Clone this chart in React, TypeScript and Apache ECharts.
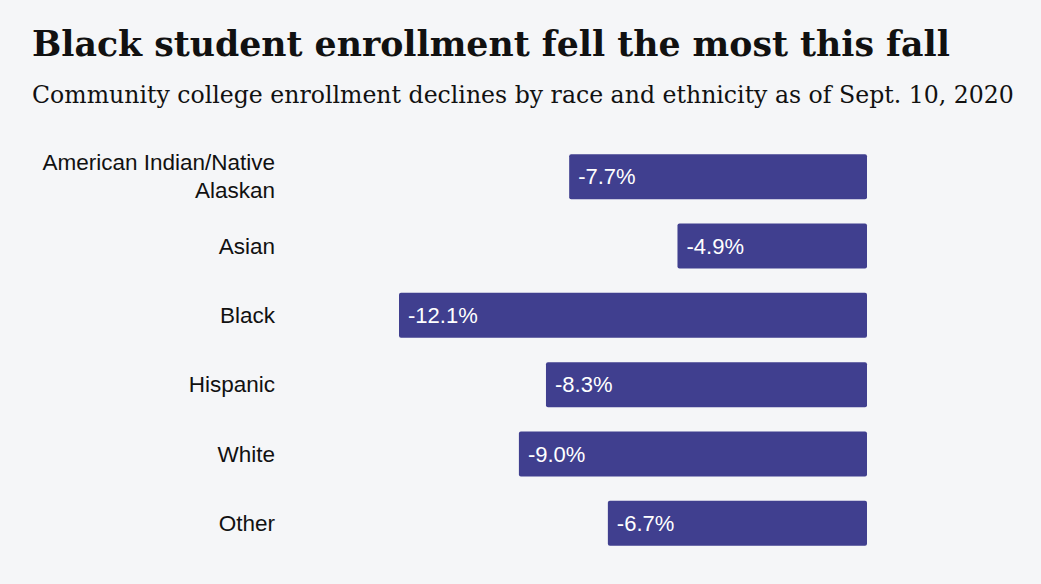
import { useEffect, useRef } from "react";
import * as echarts from "echarts";

const categories = ["American Indian/Native\nAlaskan", "Asian", "Black", "Hispanic", "White", "Other"];
const declines = [-7.7, -4.9, -12.1, -8.3, -9.0, -6.7];

const titleText = "Black student enrollment fell the most this fall";
const subtitleText = "Community college enrollment declines by race and ethnicity as of Sept. 10, 2020";

export default function App() {
  const nodeRef = useRef<HTMLDivElement | null>(null);

  useEffect(() => {
    if (!nodeRef.current) return;
    const chart = echarts.init(nodeRef.current, undefined, { renderer: "svg" });
    chart.setOption({
      animation: false,
      backgroundColor: "#f5f6f8",
      title: [
        {
          text: titleText,
          left: 27,
          top: 21,
          textStyle: { fontFamily: "DejaVu Serif", fontWeight: "bold", fontSize: 34.7, color: "#111" },
        },
        {
          text: subtitleText,
          left: 27,
          top: 78,
          textStyle: { fontFamily: "DejaVu Serif", fontWeight: "normal", fontSize: 23.6, color: "#111" },
        },
      ],
      grid: { left: 399, right: 174, top: 142, bottom: 26, containLabel: false },
      xAxis: { type: "value", min: -12.1, max: 0, show: false },
      yAxis: {
        type: "category",
        inverse: true,
        data: categories,
        axisLine: { show: false },
        axisTick: { show: false },
        splitLine: { show: false },
        axisLabel: {
          margin: 124,
          color: "#111",
          fontFamily: "Liberation Sans",
          fontSize: 22.5,
          lineHeight: 28,
          align: "right",
        },
      },
      series: [
        {
          type: "bar",
          data: declines,
          barCategoryGap: "35%",
          itemStyle: { color: "#403f8f", borderRadius: 2 },
          label: {
            show: true,
            position: "insideLeft",
            distance: 9,
            color: "#fff",
            fontFamily: "Liberation Sans",
            fontSize: 22,
            formatter: (p: { value: number }) => `${p.value.toFixed(1)}%`,
          },
        },
      ],
    });
    return () => chart.dispose();
  }, []);

  return <div ref={nodeRef} style={{ position: "absolute", left: 0, top: 0, width: 1041, height: 584 }} />;
}
